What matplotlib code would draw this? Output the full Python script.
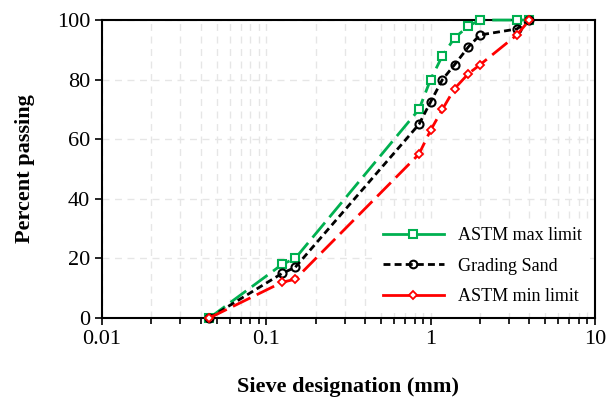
import matplotlib
matplotlib.use("Agg")
import matplotlib.pyplot as plt
from matplotlib.lines import Line2D
from matplotlib.ticker import LogLocator, FixedLocator, NullFormatter

plt.rcParams['font.family'] = ['Liberation Serif', 'DejaVu Serif']

sieve_max = [0.045, 0.125, 0.15, 0.85, 1.0, 1.18, 1.4, 1.7, 2.0, 3.35, 4.0]
astm_max = [0, 18, 20, 70, 80, 88, 94, 98, 100, 100, 100]

sieve_sand = [0.045, 0.125, 0.15, 0.85, 1.0, 1.18, 1.4, 1.7, 2.0, 3.35, 4.0]
grading_sand = [0, 15, 17, 65, 72.5, 80, 85, 91, 95, 97, 100]

sieve_min = [0.045, 0.125, 0.15, 0.85, 1.0, 1.18, 1.4, 1.7, 2.0, 3.35, 4.0]
astm_min = [0, 12, 13, 55, 63, 70, 77, 82, 85, 95, 100]

labels = ['ASTM max limit', 'Grading Sand', 'ASTM min limit']

fig = plt.figure(figsize=(6.07, 4.01), dpi=100)
ax = fig.add_axes([0.168, 0.207, 0.812, 0.743])

green = '#00b050'
red = '#ff0000'
long_dash = (0, (7, 2.5))
short_dash = (0, (2.5, 1.5))
ax.plot(sieve_max, astm_max, color=green, lw=2, linestyle=long_dash,
        marker='s', ms=6.3, mfc='white', mec=green, mew=1.5, zorder=3, clip_on=False)
ax.plot(sieve_sand, grading_sand, color='black', lw=2, linestyle=short_dash,
        marker='o', ms=5.8, mfc='none', mec='black', mew=1.5, zorder=4, clip_on=False)
ax.plot(sieve_min, astm_min, color=red, lw=2, linestyle=long_dash,
        marker='D', ms=4.4, mfc='white', mec=red, mew=1.3, zorder=5, clip_on=False)

handles = [
    Line2D([], [], color=green, lw=2, linestyle='-', marker='s', ms=6,
           mfc='white', mec=green, mew=1.5),
    Line2D([], [], color='black', lw=2, linestyle=short_dash, marker='o', ms=5.5,
           mfc='none', mec='black', mew=1.5),
    Line2D([], [], color=red, lw=2, linestyle='-', marker='D', ms=4.2,
           mfc='white', mec=red, mew=1.3),
]

ax.set_xscale('log')
ax.set_xlim(0.01, 10)
ax.set_ylim(0, 100)
ax.xaxis.set_major_locator(FixedLocator([0.01, 0.1, 1, 10]))
ax.set_xticklabels(['0.01', '0.1', '1', '10'])
ax.xaxis.set_minor_locator(LogLocator(base=10, subs=range(2, 10)))
ax.xaxis.set_minor_formatter(NullFormatter())
ax.set_yticks([0, 20, 40, 60, 80, 100])

ax.grid(True, which='both', axis='x', color='#e6e6e6', linestyle=(0, (5, 4)), lw=1)
ax.grid(True, which='major', axis='y', color='#e6e6e6', linestyle=(0, (5, 4)), lw=1)
ax.set_axisbelow(True)

for s in ax.spines.values():
    s.set_linewidth(1.5)
ax.tick_params(axis='both', which='major', direction='out', length=5, width=1.2,
               labelsize=16, colors='black')
ax.tick_params(axis='x', which='minor', direction='out', length=4, width=1.2)

ax.set_xlabel('Sieve designation (mm)', fontsize=16, fontweight='bold', labelpad=20)
ax.set_ylabel('Percent passing', fontsize=16, fontweight='bold', labelpad=16)

ax.legend(handles, labels, loc='lower right', bbox_to_anchor=(1.0, 0.0), fontsize=13,
          handlelength=3.4, labelspacing=0.75, frameon=True, framealpha=1,
          edgecolor='none', facecolor='white', borderaxespad=0.3)

fig.savefig('out.png', dpi=100)
